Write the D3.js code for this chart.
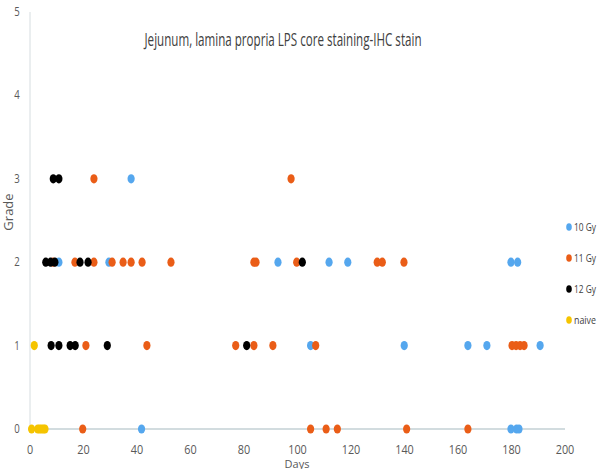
<!DOCTYPE html>
<html>
<head>
<meta charset="utf-8">
<script src="https://cdn.jsdelivr.net/npm/d3@7"></script>
<style>
  body { margin: 0; background: #fff; }
  svg { display: block; }
</style>
</head>
<body>
<script>
// chart values
const seriesNames = ["10 Gy", "11 Gy", "12 Gy", "naive"];
const seriesColors = ["#55a7ee", "#ea5d17", "#000000", "#f5c400"];

// [day, grade] pairs per group
const gy10 = [[37.8,3],
  [10.8,2],[29.5,2],[92.7,2],[111.8,2],[118.8,2],[179.8,2],[182.3,2],
  [104.9,1],[139.9,1],[163.7,1],[170.8,1],[190.7,1],
  [41.7,0],[179.8,0],[181.9,0],[182.8,0]];
const gy11 = [[23.9,3],[97.6,3],
  [8.6,2],[16.8,2],[23.9,2],[30.7,2],[34.8,2],[37.8,2],[41.9,2],[52.7,2],
  [83.7,2],[84.5,2],[99.7,2],[129.8,2],[131.7,2],[139.8,2],
  [20.9,1],[43.7,1],[76.9,1],[83.7,1],[90.8,1],[106.8,1],
  [180.2,1],[181.7,1],[183.2,1],[184.7,1],
  [19.7,0],[104.9,0],[110.7,0],[114.9,0],[140.8,0],[163.7,0]];
const gy12 = [[8.7,3],[10.8,3],
  [5.9,2],[7.7,2],[9.3,2],[18.7,2],[21.7,2],[101.8,2],
  [7.9,1],[10.8,1],[15.0,1],[16.9,1],[28.9,1],[81.0,1]];
const naive = [[1.6,1],
  [0.6,0],[2.9,0],[3.6,0],[4.3,0],[5.0,0],[5.6,0]];

const xTicks = [0, 20, 40, 60, 80, 100, 120, 140, 160, 180, 200];
const yTicks = [0, 1, 2, 3, 4, 5];

const allSeries = [gy10, gy11, gy12, naive];

const width = 600, height = 469;
const x = d3.scaleLinear().domain([0, 200]).range([30, 565]);
const y = d3.scaleLinear().domain([0, 5]).range([429, 12]);

const svg = d3.select("body").append("svg")
  .attr("width", width)
  .attr("height", height)
  .style("font-family", "'Open Sans', sans-serif");

// axis lines
svg.append("line")
  .attr("x1", x(0)).attr("x2", x(0))
  .attr("y1", y(5)).attr("y2", y(0))
  .attr("stroke", "#d6dde0").attr("stroke-width", 1);
svg.append("line")
  .attr("x1", x(0)).attr("x2", x(200))
  .attr("y1", y(0)).attr("y2", y(0))
  .attr("stroke", "#c3d0d4").attr("stroke-width", 1.5);

// tick labels
svg.append("g").selectAll("text")
  .data(yTicks).enter().append("text")
  .attr("x", 17)
  .attr("y", d => y(d) + 4)
  .attr("text-anchor", "middle")
  .attr("font-size", 12)
  .attr("fill", "#595959")
  .attr("transform", d => "translate(17," + (y(d) + 4) + ") scale(0.8,1) translate(-17," + (-(y(d) + 4)) + ")")
  .text(d => d);

svg.append("g").selectAll("text")
  .data(xTicks).enter().append("text")
  .attr("x", d => x(d))
  .attr("y", 454)
  .attr("text-anchor", "middle")
  .attr("font-size", 12)
  .attr("fill", "#595959")
  .attr("textLength", d => String(d).length * 6.2)
  .attr("lengthAdjust", "spacingAndGlyphs")
  .text(d => d);

// axis titles
svg.append("text")
  .attr("transform", "translate(13,212) rotate(-90)")
  .attr("text-anchor", "middle")
  .attr("font-size", 13)
  .attr("fill", "#595959")
  .text("Grade");

svg.append("text")
  .attr("x", 297)
  .attr("y", 468)
  .attr("text-anchor", "middle")
  .attr("font-size", 11)
  .attr("fill", "#595959")
  .text("Days");

// title
svg.append("text")
  .attr("x", 283)
  .attr("y", 46)
  .attr("text-anchor", "middle")
  .attr("font-size", 19)
  .attr("fill", "#404040")
  .attr("textLength", 277)
  .attr("lengthAdjust", "spacingAndGlyphs")
  .text("Jejunum, lamina propria LPS core staining-IHC stain");

// points, series drawn in legend order so later groups sit on top
allSeries.forEach(function(data, i) {
  svg.append("g").selectAll("ellipse")
    .data(data).enter().append("ellipse")
    .attr("cx", d => x(d[0]))
    .attr("cy", d => y(d[1]))
    .attr("rx", 3.6)
    .attr("ry", 4.6)
    .attr("fill", seriesColors[i]);
});

// legend
const legend = svg.append("g").selectAll("g")
  .data(seriesNames).enter().append("g")
  .attr("transform", (d, i) => "translate(569," + (227 + i * 31) + ")");
legend.append("ellipse")
  .attr("rx", 2.8).attr("ry", 3.8)
  .attr("fill", (d, i) => seriesColors[i]);
legend.append("text")
  .attr("x", 5)
  .attr("y", 4)
  .attr("font-size", 11)
  .attr("fill", "#404040")
  .attr("textLength", 22)
  .attr("lengthAdjust", "spacingAndGlyphs")
  .text(d => d);
</script>
</body>
</html>
